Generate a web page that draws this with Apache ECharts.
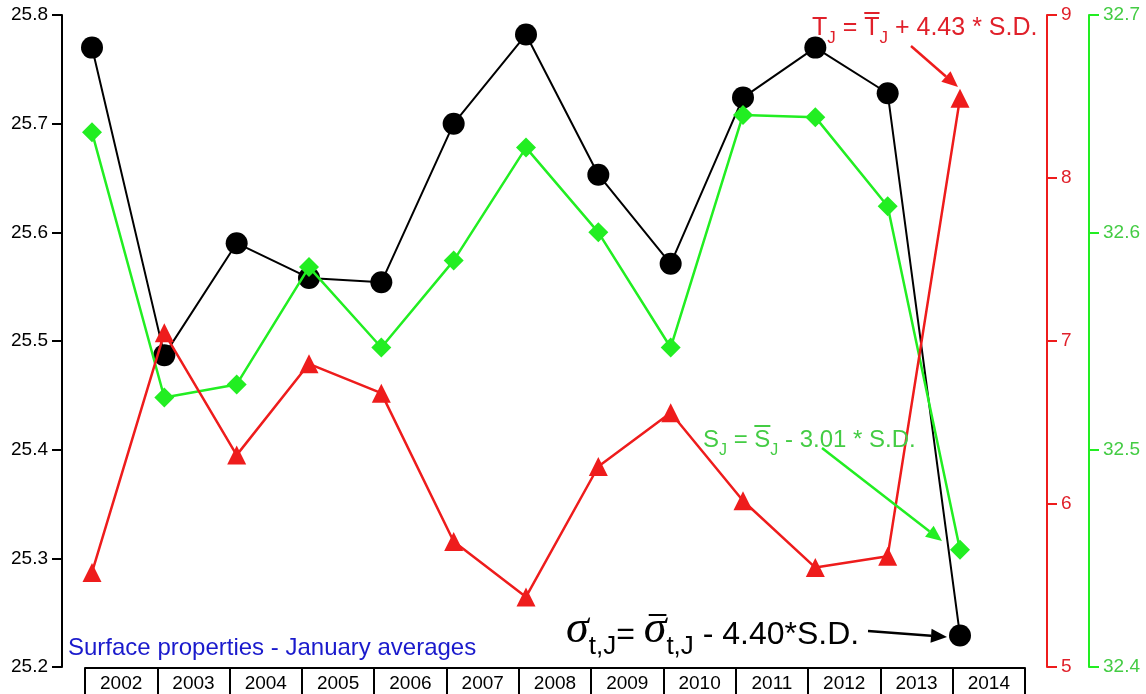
<!DOCTYPE html>
<html><head><meta charset="utf-8">
<script src="https://cdn.jsdelivr.net/npm/echarts@6/dist/echarts.min.js"></script>
<style>html,body{margin:0;padding:0;background:#fff}#c{width:1146px;height:694px}</style>
</head><body><div id="c"></div>
<script>
const years = ['2002','2003','2004','2005','2006','2007','2008','2009','2010','2011','2012','2013','2014'];
const sigmaT = [25.770, 25.487, 25.590, 25.558, 25.554, 25.700, 25.782, 25.653, 25.571, 25.724, 25.770, 25.728, 25.229];
const tempJ  = [5.58, 7.05, 6.30, 6.86, 6.68, 5.77, 5.43, 6.23, 6.56, 6.02, 5.61, 5.68, 8.49];
const salJ   = [32.646, 32.524, 32.530, 32.584, 32.547, 32.587, 32.639, 32.600, 32.547, 32.654, 32.653, 32.612, 32.454];
const leftAxis = {min: 25.2, max: 25.8, interval: 0.1};
const redAxis = {min: 5, max: 9, interval: 1};
const greenAxis = {min: 32.4, max: 32.7, interval: 0.1};

const RED = '#ee1c1c', GREEN = '#22ee22', RED_T = '#e0202a', GREEN_T = '#44cc44';
const FONT = 'Liberation Sans, Arial, sans-serif';

const chart = echarts.init(document.getElementById('c'), null, {renderer: 'canvas'});

const measureCtx = document.createElement('canvas').getContext('2d');
function textRun(pieces, x0, base, color) {
  const els = [];
  let x = x0;
  pieces.forEach(p => {
    const fam = p.family || FONT;
    const font = (p.italic ? 'italic ' : '') + p.size + 'px ' + fam;
    measureCtx.font = font;
    const w = measureCtx.measureText(p.t).width;
    const b = base + (p.dy || 0);
    els.push({type: 'text', z: 100, style: {x: x, y: b - 0.35 * p.size, text: p.t, font: font, fill: color, verticalAlign: 'middle', align: 'left'}});
    if (p.over) {
      const oy = b - p.over;
      els.push({type: 'line', z: 100, shape: {x1: x + (p.ox1||0), y1: oy, x2: x + w + (p.ox2||0), y2: oy}, style: {stroke: color, lineWidth: 2}});
    }
    x += w + (p.gap || 0);
  });
  return els;
}
function arrow(x1, y1, x2, y2, color, lw, hl, hw) {
  const a = Math.atan2(y2 - y1, x2 - x1);
  const bx = x2 - hl * Math.cos(a), by = y2 - hl * Math.sin(a);
  const nx = -Math.sin(a) * hw / 2, ny = Math.cos(a) * hw / 2;
  return [
    {type: 'line', z: 100, shape: {x1: x1, y1: y1, x2: bx, y2: by}, style: {stroke: color, lineWidth: lw}},
    {type: 'polygon', z: 100, shape: {points: [[x2, y2], [bx + nx, by + ny], [bx - nx, by - ny]]}, style: {fill: color}}
  ];
}

let graphics = [];
graphics = graphics.concat(textRun([
  {t: 'T', size: 25}, {t: 'J', size: 17, dy: 7}, {t: ' = ', size: 25},
  {t: 'T', size: 25, over: 24}, {t: 'J', size: 17, dy: 7}, {t: ' + 4.43 * S.D.', size: 25}
], 812, 37, RED_T));
graphics = graphics.concat(arrow(911, 46, 958, 87, RED, 2.5, 16, 14));

graphics = graphics.concat(textRun([
  {t: 'S', size: 24}, {t: 'J', size: 16, dy: 7}, {t: ' = ', size: 24},
  {t: 'S', size: 24, over: 23}, {t: 'J', size: 16, dy: 7}, {t: ' - 3.01 * S.D.', size: 24}
], 703, 449, GREEN_T));
graphics = graphics.concat(arrow(822, 448, 942, 541, GREEN, 2.5, 16, 14));

graphics = graphics.concat(textRun([
  {t: 'σ', size: 46, family: 'Liberation Serif, serif', italic: true}, {t: 't,J', size: 26, dy: 10}, {t: '= ', size: 32},
  {t: 'σ', size: 46, family: 'Liberation Serif, serif', italic: true, over: 31, ox1: 5, ox2: 0}, {t: 't,J', size: 26, dy: 10}, {t: ' - 4.40*S.D.', size: 32}
], 566, 646, '#000'));
graphics = graphics.concat(arrow(868, 631, 947, 637, '#000', 2.5, 16, 14));

graphics.push({type: 'text', z: 100, style: {x: 68, y: 648, text: 'Surface properties - January averages', font: '24px ' + FONT, fill: '#1a1acc', verticalAlign: 'middle'}});

function valueAxis(cfg, pos, offset, color, labelColor) {
  return {
    gridIndex: 0, type: 'value', position: pos, offset: offset,
    min: cfg.min, max: cfg.max, interval: cfg.interval,
    axisLine: {show: true, lineStyle: {color: color, width: 2}},
    axisTick: {show: true, length: 10, lineStyle: {color: color, width: 2}},
    axisLabel: {color: labelColor, fontSize: 19, fontFamily: FONT, margin: 14,
      formatter: v => (cfg.interval < 1 ? v.toFixed(1) : String(Math.round(v)))},
    splitLine: {show: false}
  };
}

chart.setOption({
  animation: false,
  backgroundColor: '#fff',
  grid: [
    {left: 92, right: 186, top: 15, bottom: 27},
    {left: 85, right: 121, top: 15, bottom: 26}
  ],
  xAxis: [
    {gridIndex: 0, type: 'category', data: years, boundaryGap: false, show: false},
    {gridIndex: 1, type: 'category', data: years, boundaryGap: true, position: 'bottom',
      axisLine: {show: true, lineStyle: {color: '#000', width: 2}},
      axisTick: {show: true, length: 30, lineStyle: {color: '#000', width: 2}},
      axisLabel: {color: '#000', fontSize: 19, fontFamily: FONT, margin: 6}}
  ],
  yAxis: [
    valueAxis(leftAxis, 'left', 30, '#000', '#000'),
    valueAxis(redAxis, 'right', 87, RED, RED_T),
    valueAxis(greenAxis, 'right', 129, GREEN, GREEN_T),
    {gridIndex: 1, type: 'value', show: false, min: 0, max: 1}
  ],
  series: [
    {name: 'sigma', type: 'line', xAxisIndex: 0, yAxisIndex: 0, data: sigmaT, symbol: 'circle', symbolSize: 22,
      itemStyle: {color: '#000'}, lineStyle: {color: '#000', width: 2}, z: 2},
    {name: 'S', type: 'line', xAxisIndex: 0, yAxisIndex: 2, data: salJ, symbol: 'diamond', symbolSize: 20,
      itemStyle: {color: GREEN}, lineStyle: {color: GREEN, width: 2.5}, z: 3},
    {name: 'T', type: 'line', xAxisIndex: 0, yAxisIndex: 1, data: tempJ, symbol: 'triangle', symbolSize: 19,
      itemStyle: {color: RED}, lineStyle: {color: RED, width: 2.5}, z: 4}
  ],
  graphic: graphics
});
</script></body></html>
